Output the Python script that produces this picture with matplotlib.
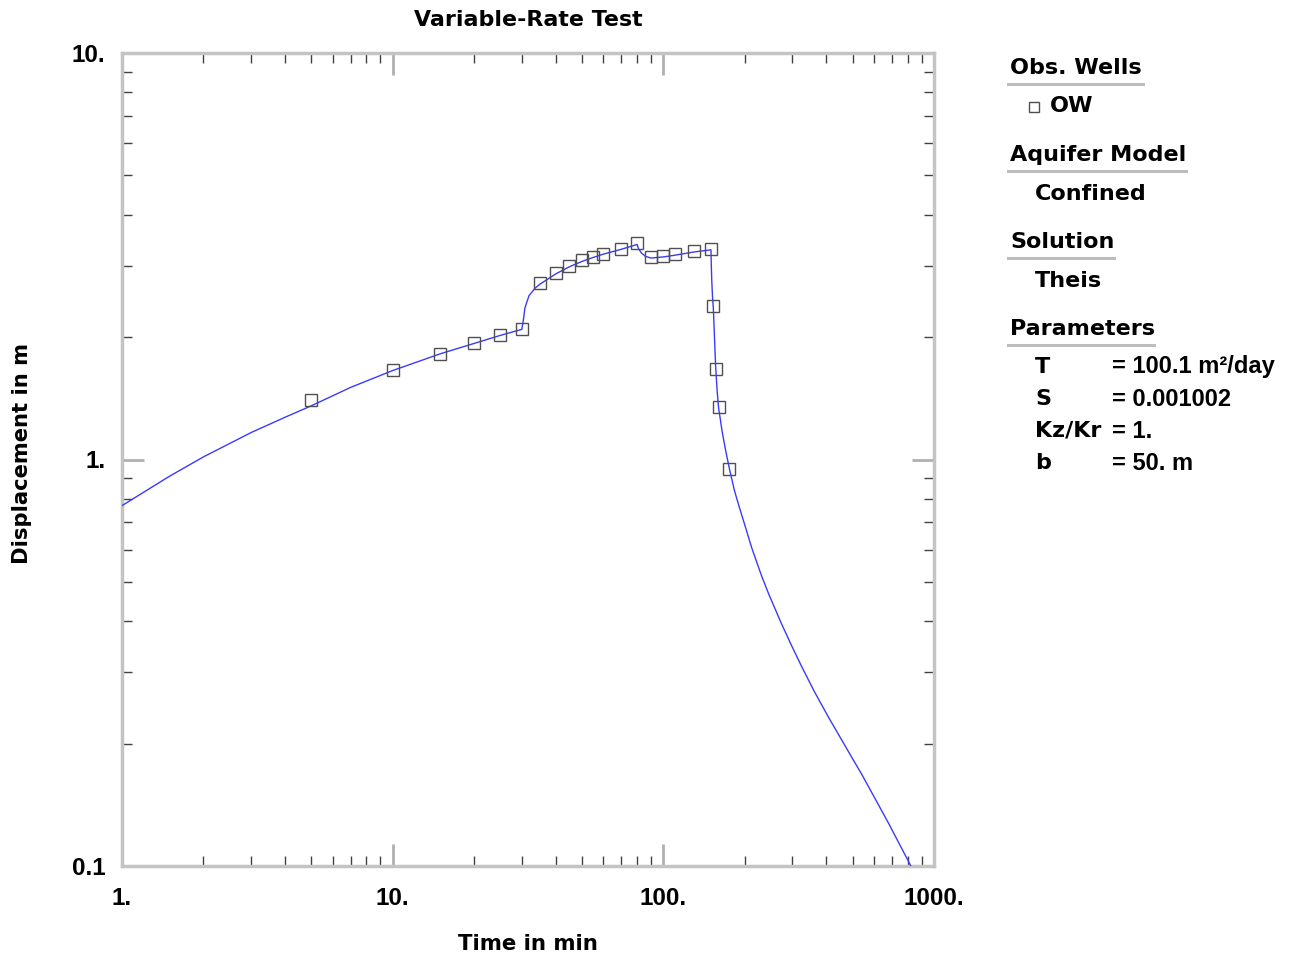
import matplotlib
matplotlib.use("Agg")
import matplotlib.pyplot as plt
from matplotlib.lines import Line2D
from matplotlib.ticker import LogLocator, NullFormatter

# ---- data ----
obs_time = [5, 10, 15, 20, 25, 30, 35, 40, 45, 50, 55, 60, 70, 80, 90, 100, 110, 130, 150,
            153, 156, 160, 175]
obs_disp = [1.40, 1.66, 1.82, 1.93, 2.03, 2.10, 2.71, 2.87, 2.99, 3.09, 3.14, 3.21, 3.29, 3.40,
            3.14, 3.16, 3.20, 3.25, 3.29, 2.38, 1.67, 1.35, 0.95]

curve_time = [1, 1.5, 2, 3, 4, 5, 7, 10, 15, 20, 25, 30, 30.4, 30.8, 31.9, 33.6, 35, 40, 45,
              50, 55, 60, 70, 80, 81, 83, 86, 90, 100, 110, 130, 150, 150.3, 151, 152, 153,
              154.5, 156, 158, 160, 165, 170, 176, 183, 191, 200, 212, 230, 245, 273, 298,
              324, 362, 408, 445, 497, 541, 604, 681, 815, 850]
curve_disp = [0.77, 0.91, 1.015, 1.165, 1.27, 1.355, 1.505, 1.655, 1.82, 1.93, 2.02, 2.09, 2.20,
              2.36, 2.53, 2.64, 2.70, 2.86, 2.98, 3.07, 3.14, 3.20, 3.29, 3.38, 3.30, 3.22,
              3.16, 3.13, 3.15, 3.18, 3.24, 3.28, 3.05, 2.75, 2.50, 2.36, 2.00, 1.70, 1.48,
              1.34, 1.17, 1.05, 0.94, 0.84, 0.762, 0.69, 0.607, 0.52, 0.467, 0.395, 0.348,
              0.310, 0.268, 0.232, 0.210, 0.185, 0.168, 0.147, 0.127, 0.101, 0.095]

x_ticks = [1, 10, 100, 1000]
x_tick_labels = ["1.", "10.", "100.", "1000."]
y_ticks = [0.1, 1, 10]
y_tick_labels = ["0.1", "1.", "10."]

title = "Variable-Rate Test"
x_label = "Time in min"
y_label = "Displacement in m"

param_names = ["T", "S", "Kz/Kr", "b"]
param_values = ["= 100.1 m²/day", "= 0.001002", "= 1.", "= 50. m"]

# ---- figure ----
W, H = 1296, 957
fig = plt.figure(figsize=(W / 100, H / 100), dpi=100)
TXT_FONT = ["DejaVu Sans"]
NUM_FONT = ["Liberation Sans", "DejaVu Sans"]
FS = 16
plt.rcParams["font.family"] = TXT_FONT

def fx(px):
    return px / W

def fy(py):
    return 1 - py / H

ax = fig.add_axes([fx(122), fy(866), fx(934) - fx(122), fy(53) - fy(866)])
ax.set_xscale("log")
ax.set_yscale("log")
ax.set_xlim(1, 1000)
ax.set_ylim(0.1, 10)

ax.plot(curve_time, curve_disp, color="#3a3aff", lw=1.0, zorder=3, clip_on=True)
ax.plot(obs_time, obs_disp, linestyle="none", marker="s", markersize=8.5,
        markerfacecolor="none", markeredgecolor="#505050", markeredgewidth=1.0, zorder=4)

spine_col = "#c4c4c4"
for s in ax.spines.values():
    s.set_color(spine_col)
    s.set_linewidth(2.5)

ax.set_xticks(x_ticks)
ax.set_xticklabels(x_tick_labels)
ax.set_yticks(y_ticks)
ax.set_yticklabels(y_tick_labels)
ax.xaxis.set_minor_locator(LogLocator(base=10, subs=range(2, 10)))
ax.yaxis.set_minor_locator(LogLocator(base=10, subs=range(2, 10)))
ax.xaxis.set_minor_formatter(NullFormatter())
ax.yaxis.set_minor_formatter(NullFormatter())

ax.tick_params(which="major", direction="in", length=16, width=2, color="#b0b0b0",
               top=True, right=True, labelsize=17.5)
ax.tick_params(which="minor", direction="in", length=7.5, width=1, color="#404040",
               top=True, right=True)
ax.tick_params(axis="x", which="major", pad=15)
ax.tick_params(axis="y", which="major", pad=12)
for lab in ax.get_xticklabels() + ax.get_yticklabels():
    lab.set_fontweight("bold")
    lab.set_family(NUM_FONT)

fig.text(fx(528), fy(20), title, ha="center", va="center", fontsize=15.9, fontweight="bold")
fig.text(fx(528), fy(944), x_label, ha="center", va="center", fontsize=15.3, fontweight="bold")
fig.text(fx(22), fy(454), y_label, ha="center", va="center", rotation=90, fontsize=15.2,
         fontweight="bold")

# ---- right-hand panel ----
def header(text, py, x_end):
    fig.text(fx(1010), fy(py), text, ha="left", va="center", fontsize=FS, fontweight="bold")
    fig.add_artist(Line2D([fx(1008), fx(x_end)], [fy(py + 16), fy(py + 16)],
                          transform=fig.transFigure, color="#bdbdbd", lw=2.2))

def item(text, py, px=1035, family=None, size=FS):
    fig.text(fx(px), fy(py), text, ha="left", va="center", fontsize=size, fontweight="bold",
             family=family or TXT_FONT)

header("Obs. Wells", 68, 1143)
fig.add_artist(Line2D([fx(1034)], [fy(107)], transform=fig.transFigure, marker="s",
                      markersize=6.5, markerfacecolor="none", markeredgecolor="#505050",
                      markeredgewidth=1.0, linestyle="none"))
item("OW", 106, 1050)

header("Aquifer Model", 155, 1186)
item("Confined", 194)

header("Solution", 242, 1114)
item("Theis", 281)

header("Parameters", 329, 1154)
param_y = [367, 399, 431, 463]
for name, val, py in zip(param_names, param_values, param_y):
    item(name, py)
    item(val, py, 1112, family=NUM_FONT, size=17)

fig.savefig("out.png", dpi=100)
